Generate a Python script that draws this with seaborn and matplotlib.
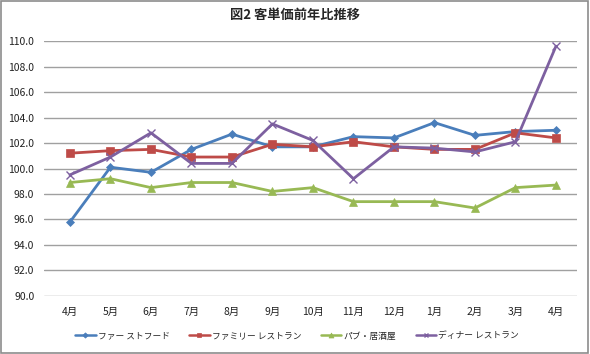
import numpy as np
import pandas as pd
import seaborn as sns
import matplotlib.pyplot as plt
from matplotlib.patches import Rectangle

# ==================== Data ====================
MONTHS = ['4月', '5月', '6月', '7月', '8月', '9月', '10月', '11月', '12月',
          '1月', '2月', '3月', '4月']

FAST_FOOD = [95.8, 100.1, 99.7, 101.5, 102.7, 101.7, 101.7, 102.5, 102.4,
             103.6, 102.6, 102.9, 103.0]
FAMILY = [101.2, 101.4, 101.5, 100.9, 100.9, 101.9, 101.7, 102.1, 101.7,
          101.5, 101.5, 102.8, 102.4]
PUB = [98.9, 99.2, 98.5, 98.9, 98.9, 98.2, 98.5, 97.4, 97.4,
       97.4, 96.9, 98.5, 98.7]
DINNER = [99.5, 100.9, 102.8, 100.4, 100.4, 103.5, 102.2, 99.2, 101.7,
          101.6, 101.3, 102.1, 109.6]

SERIES_NAMES = ['ファー ストフード', 'ファミリー レストラン', 'パブ・居酒屋', 'ディナー レストラン']
# ===============================================

sns.set_style('white')
plt.rcParams['font.family'] = ['Noto Sans CJK JP', 'DejaVu Sans']

series = [
    (SERIES_NAMES[0], FAST_FOOD, '#4A7EBB', 'D', 4.5),
    (SERIES_NAMES[1], FAMILY, '#BE4B48', 's', 5.5),
    (SERIES_NAMES[2], PUB, '#98B954', '^', 6),
    (SERIES_NAMES[3], DINNER, '#7D60A0', 'x', 6),
]

fig = plt.figure(figsize=(5.9, 3.54), dpi=100)
ax = fig.add_axes([0.0746, 0.164, 0.978 - 0.0746, 0.884 - 0.164])

idx = np.arange(len(MONTHS))
for name, vals, color, marker, ms in series:
    df = pd.DataFrame({'idx': idx, 'value': vals})
    sns.lineplot(data=df, x='idx', y='value', ax=ax, color=color, linewidth=2,
                 marker=marker, markersize=ms, markeredgecolor=color,
                 markeredgewidth=1 if marker == 'x' else 0.5, label=name)

ax.set_ylim(90, 110)
ax.set_yticks(np.arange(90, 110.1, 2))
ax.set_yticklabels([f'{v:.1f}' for v in np.arange(90, 110.1, 2)])
ax.set_xlim(-0.64, 12.52)
ax.set_xticks(idx)
ax.set_xticklabels(MONTHS)
ax.tick_params(axis='both', length=0, labelsize=7.5, colors='#222222')
ax.tick_params(axis='y', pad=7)
ax.tick_params(axis='x', pad=8)
ax.yaxis.grid(True, color='#A0A0A0', linewidth=1)
ax.set_axisbelow(True)
for s in ax.spines.values():
    s.set_visible(False)
ax.set_xlabel('')
ax.set_ylabel('')

leg = ax.legend(loc='center', bbox_to_anchor=(0.475, -0.157), ncol=4, frameon=False,
                fontsize=6.3, handlelength=2.3, columnspacing=2.2, handletextpad=0.3,
                markerscale=0.6)
for h in leg.legend_handles:
    h.set_linewidth(1.8)

fig.text(0.5, 1 - 15 / 354, '図2 客単価前年比推移', ha='center', va='center',
         fontsize=9.5, fontweight='bold')

fig.patches.append(Rectangle((0.002, 0.003), 0.995, 0.994, transform=fig.transFigure,
                             fill=False, edgecolor='#8C8C8C', linewidth=1.2))

fig.savefig('out.png', dpi=100)
